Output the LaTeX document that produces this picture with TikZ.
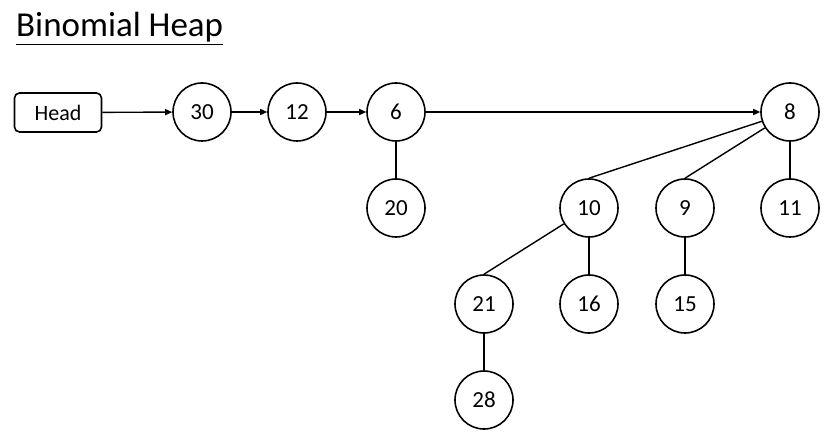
\documentclass[tikz,border=0pt]{standalone}
\usepackage{fontspec}
\setmainfont{Carlito}
\usetikzlibrary{arrows.meta}
\begin{document}
\begin{tikzpicture}[x=1pt,y=-1pt,
  heapnode/.style={draw, circle, line width=1.6pt, minimum size=58pt, inner sep=0pt, font=\fontsize{23}{26}\selectfont},
  headbox/.style={draw, rounded corners=5pt, line width=1.6pt, minimum width=87pt, minimum height=39pt, inner sep=0pt, font=\fontsize{22}{26}\selectfont},
  link/.style={line width=1.4pt, -{Triangle[length=7pt,width=6pt]}},
  edge/.style={line width=1.4pt}]
\useasboundingbox (0,0) rectangle (832,443);
\node[anchor=base west, inner sep=0pt, font=\fontsize{35}{40}\selectfont] (title) at (16,37) {\underline{Binomial Heap}};
\node[headbox] (head) at (58,112.5) {Head};
\node[heapnode] (n30) at (202,112) {30};
\node[heapnode] (n12) at (297,112) {12};
\node[heapnode] (n6) at (396,112) {6};
\node[heapnode] (n8) at (790,112) {8};
\node[heapnode] (n20) at (396,208) {20};
\node[heapnode] (n10) at (589,208) {10};
\node[heapnode] (n9) at (685,208) {9};
\node[heapnode] (n11) at (790,208) {11};
\node[heapnode] (n21) at (484,304) {21};
\node[heapnode] (n16) at (589,304) {16};
\node[heapnode] (n15) at (685,304) {15};
\node[heapnode] (n28) at (484,400) {28};
\draw[link] (head) -- (n30);
\draw[link] (n30) -- (n12);
\draw[link] (n12) -- (n6);
\draw[link] (n6) -- (n8);
\draw[edge] (n6) -- (n20);
\draw[edge] (n8) -- (n10.north);
\draw[edge] (n8) -- (n9.north);
\draw[edge] (n8) -- (n11);
\draw[edge] (n10) -- (n21.north);
\draw[edge] (n10) -- (n16);
\draw[edge] (n9) -- (n15);
\draw[edge] (n21) -- (n28);
\end{tikzpicture}
\end{document}
